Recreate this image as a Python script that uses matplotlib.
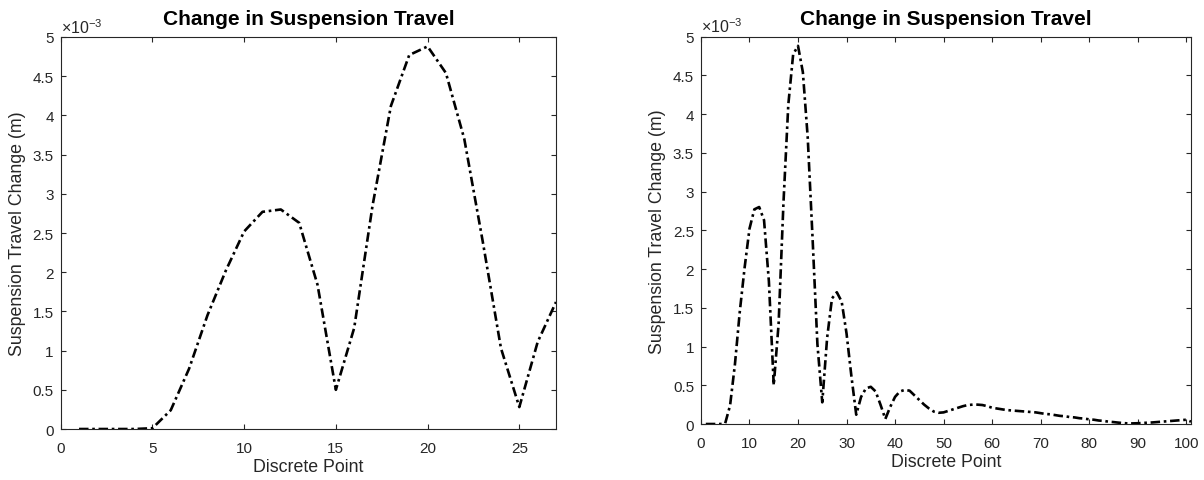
import numpy as np
import matplotlib
matplotlib.use("Agg")
import matplotlib.pyplot as plt
from matplotlib.ticker import ScalarFormatter

plt.rcParams['font.family'] = ['Liberation Sans', 'DejaVu Sans']
plt.rcParams['mathtext.fontset'] = 'custom'
plt.rcParams['mathtext.rm'] = 'Liberation Sans'

# suspension travel change per discrete point, in units of 1e-3 m
points = np.arange(1, 102)
travel_change = [
    0.0, 0.0, 0.0, 0.0, 0.01, 0.24, 0.77, 1.45, 2.02, 2.52,
    2.77, 2.80, 2.63, 1.84, 0.50, 1.29, 2.85, 4.12, 4.77, 4.88,
    4.54, 3.70, 2.40, 1.03, 0.28, 1.11, 1.62, 1.70, 1.58, 1.17,
    0.62, 0.12, 0.35, 0.46, 0.48, 0.42, 0.25, 0.065, 0.22, 0.35,
    0.42, 0.44, 0.43, 0.37, 0.31, 0.25, 0.20, 0.16, 0.145, 0.15,
    0.17, 0.19, 0.21, 0.23, 0.245, 0.25, 0.25, 0.245, 0.23, 0.21,
    0.20, 0.19, 0.18, 0.175, 0.17, 0.165, 0.16, 0.155, 0.15, 0.14,
    0.13, 0.125, 0.115, 0.105, 0.10, 0.09, 0.085, 0.075, 0.07, 0.06,
    0.055, 0.045, 0.04, 0.03, 0.025, 0.018, 0.012, 0.008, 0.008, 0.01,
    0.013, 0.017, 0.02, 0.025, 0.03, 0.035, 0.04, 0.045, 0.05, 0.055,
    0.03,
]
n_zoom = 27  # left panel shows only the first points

left_xticks = [0, 5, 10, 15, 20, 25]
right_xticks = list(range(0, 101, 10))
yticks = [0, 0.5, 1, 1.5, 2, 2.5, 3, 3.5, 4, 4.5, 5]

axcol = '#262626'
dashdot = (0, (3.6, 1.4, 1.0, 1.4))


class PlainSci(ScalarFormatter):
    # keep the x10^-3 offset label but print ticks like 0.5, 1, 1.5
    def _set_format(self):
        self.format = '%g'


fig = plt.figure(figsize=(12.04, 4.81), dpi=100)
ax1 = fig.add_axes([0.0504, 0.106, 0.4114, 0.815])
ax2 = fig.add_axes([0.5822, 0.1164, 0.407, 0.8056])

y_m = np.array(travel_change) * 1e-3


def style(ax, xlim, xticks):
    ax.set_xlim(*xlim)
    ax.set_ylim(0, 5e-3)
    ax.set_xticks(xticks)
    ax.set_yticks([v * 1e-3 for v in yticks])
    fmt = PlainSci(useMathText=True)
    fmt.set_powerlimits((-3, -3))
    ax.yaxis.set_major_formatter(fmt)
    ax.yaxis.get_offset_text().set_fontsize(11.5)
    ax.yaxis.get_offset_text().set_color(axcol)
    ax.tick_params(direction='in', top=True, right=True, length=3.6,
                   width=0.8, colors=axcol, labelsize=11)
    ax.tick_params(axis='x', pad=8.5)
    ax.tick_params(axis='y', pad=5)
    for sp in ax.spines.values():
        sp.set_color(axcol)
        sp.set_linewidth(0.8)
    ax.set_title('Change in Suspension Travel', fontsize=15,
                 fontweight='bold', pad=9)
    ax.set_xlabel('Discrete Point', fontsize=12.8, color=axcol, labelpad=2)
    ax.set_ylabel('Suspension Travel Change (m)', fontsize=12.8, color=axcol,
                  labelpad=5)


ax1.plot(points[:n_zoom], y_m[:n_zoom], color='black', lw=1.9,
         linestyle=dashdot)
style(ax1, (0, 27), left_xticks)

ax2.plot(points, y_m, color='black', lw=1.9, linestyle=dashdot)
style(ax2, (0, 101), right_xticks)

fig.savefig('out.png', dpi=100)
